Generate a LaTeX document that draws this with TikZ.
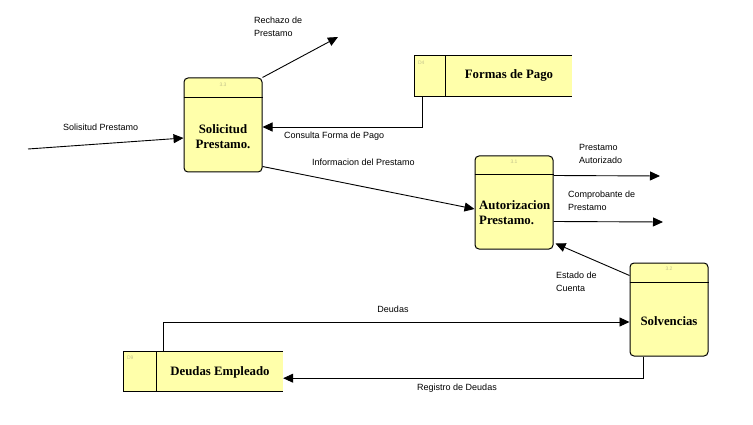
\documentclass[tikz,border=0pt]{standalone}
\usepackage{fontspec}
\setmainfont{Liberation Serif}
\newfontfamily\labfont{Liberation Sans}
\usetikzlibrary{arrows.meta,calc}
\definecolor{boxfill}{RGB}{255,255,170}
\definecolor{faint}{RGB}{195,195,140}
\tikzset{
  proc/.style={draw, line width=1pt, fill=boxfill, rounded corners=4pt, minimum width=78pt, minimum height=93pt, inner sep=0pt},
  storebg/.style={fill=boxfill, inner sep=0pt},
  edge/.style={line width=1pt},
  flow/.style={line width=0.9pt, -{Triangle[length=10pt,width=9pt]}},
  ptext/.style={font=\fontsize{12.8}{15}\selectfont\bfseries, align=center, inner sep=0pt},
  lab/.style={font=\labfont\fontsize{9}{13}\selectfont, align=left, inner sep=0pt},
  tag/.style={font=\labfont\fontsize{5}{6}\selectfont, text=faint, inner sep=0pt}
}
\begin{document}
\begin{tikzpicture}[x=1pt,y=-1pt]
\useasboundingbox[fill=white] (0,0) rectangle (753,425);

% processes
\node[proc, minimum height=94pt] (sol) at (223,125) {};
\draw[edge] ($(sol.north west)+(0,20)$) -- ($(sol.north east)+(0,20)$);
\node[tag] (soltag) at (223,85) {3.3};
\node[ptext] (solt) at (223,137) {Solicitud\\Prestamo.};

\node[proc] (aut) at (514,202.5) {};
\draw[edge] ($(aut.north west)+(0,19)$) -- ($(aut.north east)+(0,19)$);
\node[tag] (auttag) at (514,162) {3.1};
\node[ptext, align=left, anchor=west] (autt) at (479,213) {Autorizacion\\Prestamo.};

\node[proc] (solv) at (669,309.5) {};
\draw[edge] ($(solv.north west)+(0,20)$) -- ($(solv.north east)+(0,20)$);
\node[tag] (solvtag) at (669,269) {3.2};
\node[ptext] (solvt) at (669,321) {Solvencias};

% data stores
\node[storebg, minimum width=157pt, minimum height=40pt] (fp) at (493.5,76) {};
\draw[edge] (fp.north east) -- (fp.north west) -- (fp.south west) -- (fp.south east);
\draw[edge] ($(fp.north west)+(31,0)$) -- ($(fp.south west)+(31,0)$);
\node[tag, anchor=north west] (fptag) at ($(fp.north west)+(3,5)$) {D4};
\node[ptext] (fpt) at (509,75) {Formas de Pago};

\node[storebg, minimum width=159pt, minimum height=39pt] (de) at (203.5,371.5) {};
\draw[edge] (de.north east) -- (de.north west) -- (de.south west) -- (de.south east);
\draw[edge] ($(de.north west)+(33,0)$) -- ($(de.south west)+(33,0)$);
\node[tag, anchor=north west] (detag) at ($(de.north west)+(3,4)$) {D9};
\node[ptext] (det) at (220,372) {Deudas Empleado};

% free ends
\coordinate (src) at (28,149);
\coordinate (rech) at (338,37);
\coordinate (paut) at (660,176);
\coordinate (comp) at (663,222);

% flows
\draw[flow] (src) -- ($(sol.west)+(0,13)$);
\draw[flow] (sol.north east) -- (rech);
\draw[flow] ($(fp.south west)+(8,0)$) |- ($(sol.east)+(0,2)$);
\draw[flow] ($(sol.south east)+(0,-6)$) -- ($(aut.west)+(0,6.5)$);
\draw[flow] ($(aut.north east)+(0,20)$) -- (paut);
\draw[flow] ($(aut.north east)+(0,66)$) -- (comp);
\draw[flow] ($(solv.north west)+(0,13)$) -- ($(aut.south east)+(2,-6)$);
\draw[flow] ($(de.north west)+(40,0)$) |- ($(solv.west)+(0,12.5)$);
\draw[flow] ($(solv.south west)+(14,0)$) |- ($(de.south east)+(0,-13)$);

% labels
\node[lab, anchor=west] (l1) at (63,127) {Solisitud Prestamo};
\node[lab, anchor=west] (l2) at (254,26.5) {Rechazo de\\Prestamo};
\node[lab, anchor=west] (l3) at (284,136) {Consulta Forma de Pago};
\node[lab, anchor=west] (l4) at (312,162) {Informacion del Prestamo};
\node[lab, anchor=west] (l5) at (579,154) {Prestamo\\Autorizado};
\node[lab, anchor=west] (l6) at (568,200.5) {Comprobante de\\Prestamo};
\node[lab, anchor=west] (l7) at (556,282) {Estado de\\Cuenta};
\node[lab] (l8) at (393,309) {Deudas};
\node[lab] (l9) at (457,388) {Registro de Deudas};
\end{tikzpicture}
\end{document}
